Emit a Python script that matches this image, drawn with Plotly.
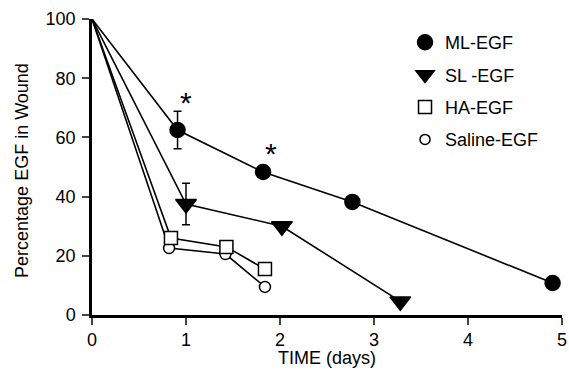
import plotly.graph_objects as go

# Data
ml_x = [0, 0.91, 1.82, 2.77, 4.9]
ml_y = [100, 62.5, 48.3, 38.2, 10.8]
ml_err = [6.3]
sl_x = [0, 1.0, 2.02, 3.28]
sl_y = [100, 37.5, 30.0, 4.6]
sl_err = [7.0]
ha_x = [0, 0.84, 1.43, 1.84]
ha_y = [100, 26.0, 23.0, 15.5]
sa_x = [0, 0.82, 1.42, 1.84]
sa_y = [100, 22.6, 20.6, 9.5]
star_x = [1.0, 1.9]
star_y = [71.8, 54.5]
names = ["ML-EGF", "SL -EGF", "HA-EGF", "Saline-EGF"]
xticks = [0, 1, 2, 3, 4, 5]
yticks = [0, 20, 40, 60, 80, 100]

FONT = "Liberation Sans, Arial, Helvetica, sans-serif"
fig = go.Figure()

line = dict(color="black", width=1.6)

def add(x, y, sym, size, fill):
    sizes = [0] + [size] * (len(x) - 1)  # no marker at the origin
    fig.add_trace(go.Scatter(
        x=x, y=y, mode="lines+markers", line=line, showlegend=False,
        marker=dict(symbol=sym, size=sizes, color=fill, opacity=1,
                    line=dict(color="black", width=1.5)),
        cliponaxis=False))

add(sa_x, sa_y, "circle", 11, "white")
add(ha_x, ha_y, "square", 13, "white")
add(sl_x, sl_y, "triangle-down", 18, "black")
add(ml_x, ml_y, "circle", 15, "black")

# error bars
for ex, ey, ee in [(ml_x[1:2], ml_y[1:2], ml_err), (sl_x[1:2], sl_y[1:2], sl_err)]:
    fig.add_trace(go.Scatter(x=ex, y=ey, mode="markers",
                             marker=dict(size=0.1, color="black"), showlegend=False,
                             error_y=dict(type="data", array=ee, color="black",
                                          thickness=1.5, width=4)))

# legend-only traces
leg = [("circle", 15, "black"), ("triangle-down", 16, "black"),
       ("square", 13, "white"), ("circle", 10, "white")]
for i, (nm, (sym, sz, fill)) in enumerate(zip(names, leg)):
    fig.add_trace(go.Scatter(x=[None], y=[None], mode="markers", name=nm,
                             legendgroup=str(i),
                             marker=dict(symbol=sym, size=sz, color=fill, opacity=1,
                                         line=dict(color="black", width=1.5))))

for sx, sy in zip(star_x, star_y):
    fig.add_annotation(x=sx, y=sy, text="*", showarrow=False,
                       font=dict(size=30, color="black", family=FONT),
                       yanchor="middle")

fig.add_annotation(xref="paper", yref="paper", x=0.5, y=-0.145, text="TIME (days)",
                   showarrow=False, xanchor="center", yanchor="middle",
                   font=dict(size=18, family=FONT, color="black"))
fig.add_annotation(xref="paper", yref="paper", x=-0.149, y=0.49,
                   text="Percentage EGF in Wound", textangle=-90,
                   showarrow=False, xanchor="center", yanchor="middle",
                   font=dict(size=18, family=FONT, color="black"))

fig.update_layout(
    width=569, height=372,
    margin=dict(l=92, r=7, t=19, b=57, autoexpand=False),
    paper_bgcolor="white", plot_bgcolor="white",
    font=dict(family=FONT, size=18, color="black"),
    legend=dict(x=0.666, y=0.983, xanchor="left", yanchor="top",
                font=dict(size=18), tracegroupgap=6, itemwidth=30,
                bgcolor="rgba(0,0,0,0)"),
)
fig.update_xaxes(range=[0, 5], tickvals=xticks, showline=True, linecolor="black",
                 linewidth=2.5, ticks="outside", ticklen=7, tickwidth=2,
                 showgrid=False, zeroline=False, automargin=False)
fig.update_yaxes(range=[0, 100], tickvals=yticks, showline=True, linecolor="black",
                 linewidth=2.5, ticks="outside", ticklen=7, tickwidth=2,
                 showgrid=False, zeroline=False, automargin=False,
                 ticklabelstandoff=3)

fig.write_html("out.html", config={"displayModeBar": False},
               post_script="document.body.style.margin='0';")
